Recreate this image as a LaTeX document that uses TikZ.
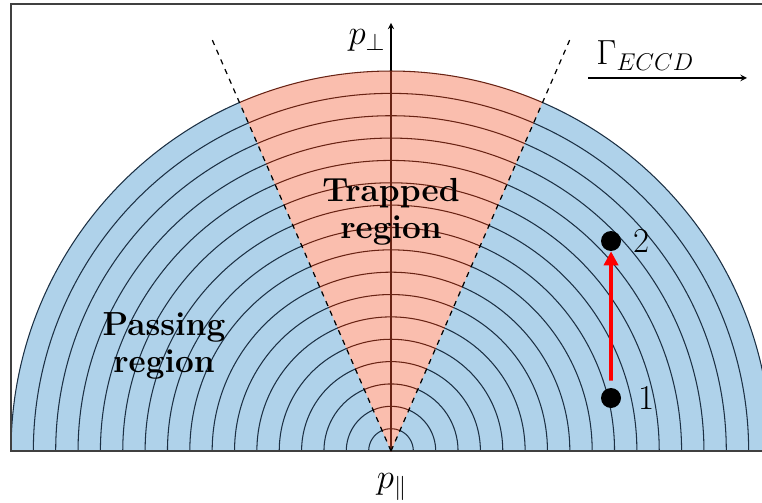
\documentclass[tikz,border=0pt]{standalone}
\usepackage{amsmath,amssymb}
\usetikzlibrary{arrows,arrows.meta,positioning}
\definecolor{passblue}{RGB}{175,210,234}
\definecolor{trappink}{RGB}{250,190,174}
\definecolor{ringblue}{RGB}{28,48,68}
\definecolor{ringpink}{RGB}{105,35,20}

\begin{document}
\begin{tikzpicture}[scale=0.02,
  ring/.style={line width=0.6pt, line cap=round},
  lbl/.style={font=\fontsize{17.28}{20}\selectfont, inner sep=1pt, scale=1.15},
  region/.style={font=\fontsize{19}{21}\selectfont\bfseries, align=center},
  dot/.style={circle, fill=black, minimum size=0.4cm, inner sep=0pt},
  >=stealth
]
  \useasboundingbox (-391,-51) rectangle (371,451);
  \begin{scope}
    \clip (-391,-51) rectangle (371,451);
    % regions
    \fill[passblue] (380,0) arc[start angle=0, end angle=180, radius=380] -- cycle;
    \fill[trappink] (0,0) -- (66.5:380) arc[start angle=66.5, end angle=113.5, radius=380] -- cycle;
    % rings
    \foreach \k in {1,...,17} {
      \draw[ring, ringblue] (0:{\k*380/17}) arc[start angle=0, end angle=66.5, radius={\k*380/17}];
      \draw[ring, ringpink] (66.5:{\k*380/17}) arc[start angle=66.5, end angle=113.5, radius={\k*380/17}];
      \draw[ring, ringblue] (113.5:{\k*380/17}) arc[start angle=113.5, end angle=180, radius={\k*380/17}];
    }
    % frame
    \draw[line width=0.7pt, black!75] (-380,0) rectangle (400,447);
  \end{scope}

  % axes
  \coordinate (O) at (0,0);
  \coordinate (ptop) at (0,428);
  \draw[->, line width=0.6pt] (O) -- (ptop);
  \draw[ring, ringpink] (O) -- (90:380);
  \node[lbl, anchor=base east] (pperp) at (-3,406) {$p_\perp$};
  \node[lbl, anchor=base] (ppar) at (1,-37) {$p_\parallel$};

  % boundaries
  \coordinate (dl) at (113.5:453);
  \coordinate (dr) at (66.5:453);
  \draw[dashed, line width=0.7pt] (O) -- (dl);
  \draw[dashed, line width=0.7pt] (O) -- (dr);

  \node[region] (trapped) at (0,239) {Trapped\\region};
  \node[region] (passing) at (-227,105) {Passing\\region};

  % current drive
  \node[lbl, anchor=base west] (gamma) at (203,386) {$\Gamma_{ECCD}$};
  \coordinate (gs) at (197,373);
  \coordinate (ge) at (356,373);
  \draw[->, line width=0.7pt] (gs) -- (ge);

  \node[dot] (pt1) at (220,53) {};
  \node[dot] (pt2) at (220,210) {};
  \node[lbl, right=0.3cm of pt1] (n1) {1};
  \node[lbl, right=0.2cm of pt2] (n2) {2};
  \draw[red, line width=2.2pt, -{Triangle[length=8pt,width=8pt]}, shorten <=4pt] (pt1) -- (pt2);
\end{tikzpicture}
\end{document}
